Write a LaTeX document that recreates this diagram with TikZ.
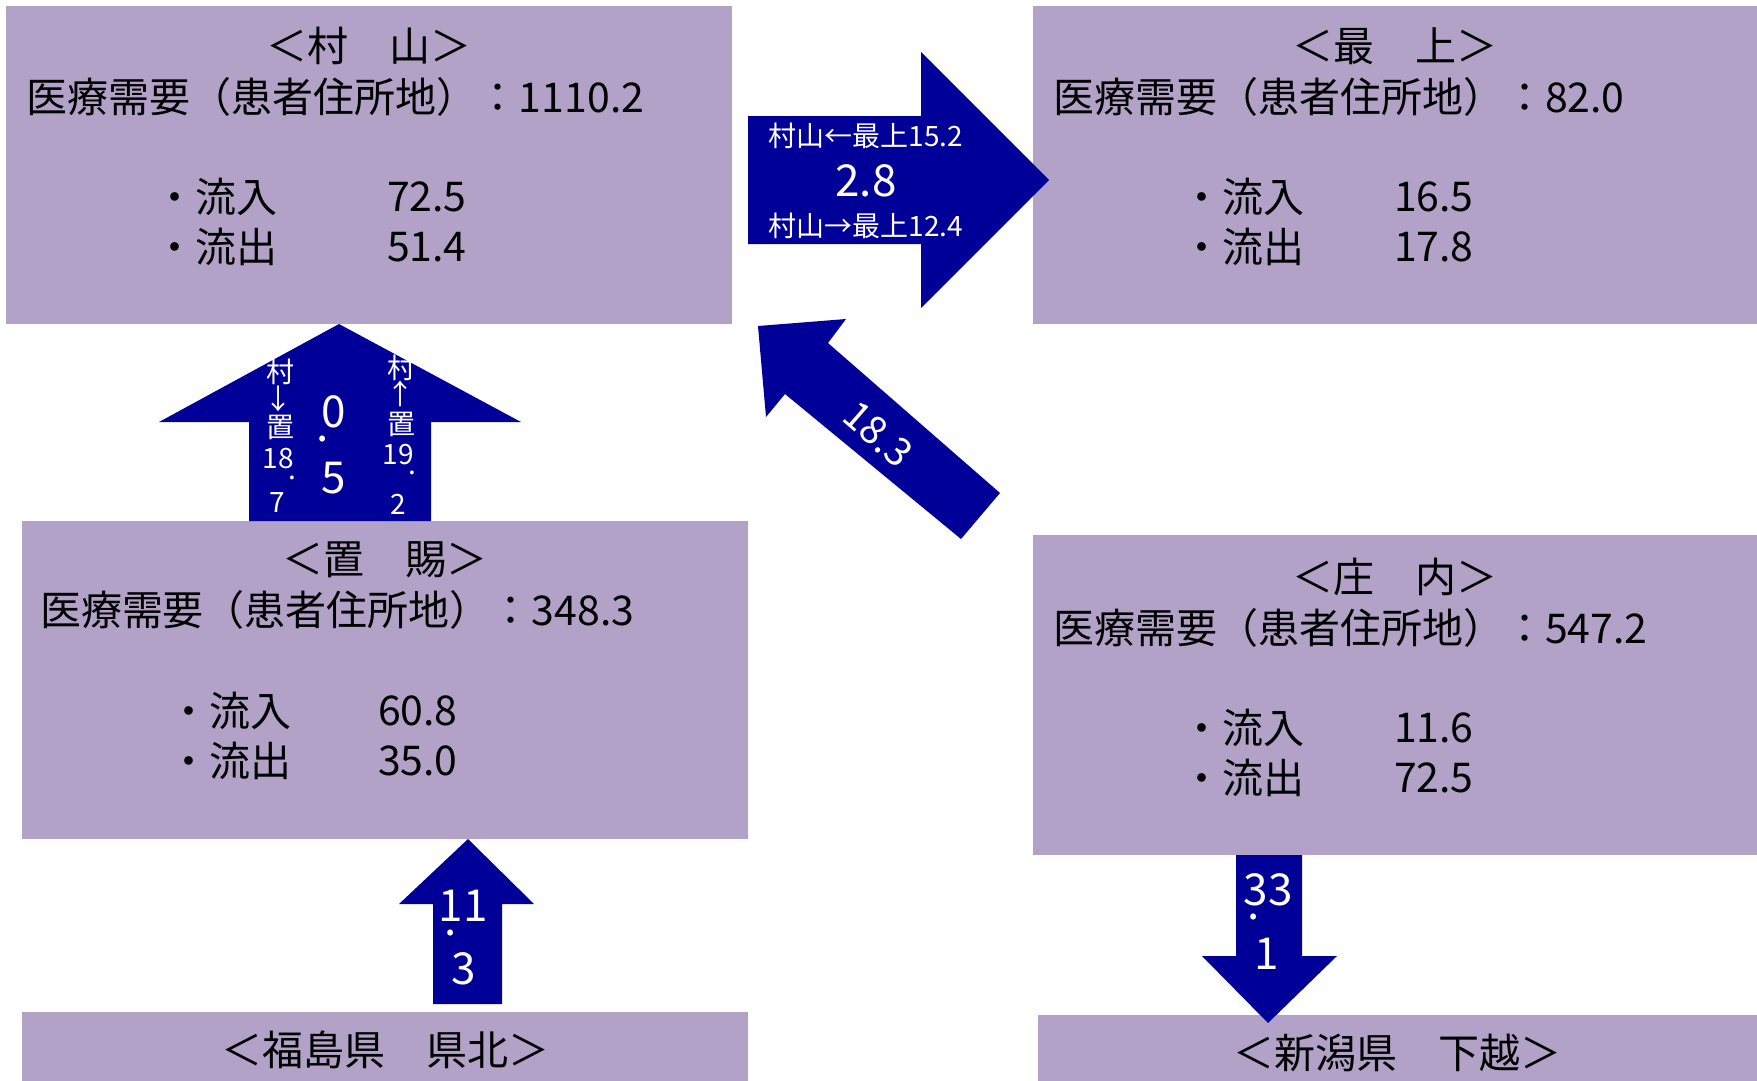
\documentclass[tikz,border=0pt]{standalone}
\usepackage{fontspec}
\setmainfont{Noto Sans CJK JP}
\usetikzlibrary{positioning}
\definecolor{lavender}{RGB}{179,162,199}
\definecolor{flowblue}{RGB}{0,0,153}
\newcommand{\areafont}{\fontsize{41}{45}\selectfont}
\newcommand{\flowfont}{\fontsize{44}{48}\selectfont}
\newcommand{\flowsmallfont}{\fontsize{28}{30}\selectfont}

\begin{document}
\begin{tikzpicture}
    [
        x=1pt, y=-1pt, node distance=514pt and 1026pt, on grid,
        area_box/.style={rectangle, fill=lavender, inner sep=0pt, minimum width=726pt, minimum height=318pt},
        ken_box/.style={rectangle, fill=lavender, inner sep=0pt, minimum width=726pt, minimum height=76pt, font=\areafont},
        title_text/.style={inner sep=0pt, font=\areafont, text=black},
        area_text/.style={inner sep=0pt, font=\areafont, text=black, anchor=west},
        flow_arrow/.style={fill=flowblue},
        flow_big/.style={inner sep=0pt, font=\flowfont, text=white},
        flow_small/.style={inner sep=0pt, font=\flowsmallfont, text=white},
    ]
        \useasboundingbox (0,0) rectangle (1757,1080);
        % areas
        \node[area_box] (murayama) at (369,165) {};
        \node[area_box, minimum width=724pt] (mogami) [right = of murayama] {};
        \node[area_box] (okitama) [below = 514.5pt of murayama, xshift=16pt] {};
        \node[area_box, minimum width=724pt, minimum height=320pt] (shonai) [below = 530pt of mogami] {};
        \node[ken_box] (fukushima) [below = 370.5pt of okitama] {＜福島県　県北＞};
        \node[ken_box, minimum width=719pt] (niigata) [below = 358pt of shonai, xshift=2.5pt] {＜新潟県　下越＞};
        % murayama
        \node[title_text] (murayama_title) at ([shift={(0,40)}]murayama.north) {＜村　山＞};
        \node[area_text] (murayama_demand) at ([shift={(21,91)}]murayama.north west) {医療需要（患者住所地）：1110.2};
        \node[area_text] (murayama_in) at ([shift={(148,191)}]murayama.north west) {・流入};
        \node[area_text] (murayama_in_value) at ([shift={(381,191)}]murayama.north west) {72.5};
        \node[area_text] (murayama_out) at ([shift={(148,241)}]murayama.north west) {・流出};
        \node[area_text] (murayama_out_value) at ([shift={(381,241)}]murayama.north west) {51.4};
        % mogami
        \node[title_text] (mogami_title) at ([shift={(0,40)}]mogami.north) {＜最　上＞};
        \node[area_text] (mogami_demand) at ([shift={(20,91)}]mogami.north west) {医療需要（患者住所地）：82.0};
        \node[area_text] (mogami_in) at ([shift={(148,191)}]mogami.north west) {・流入};
        \node[area_text] (mogami_in_value) at ([shift={(361,191)}]mogami.north west) {16.5};
        \node[area_text] (mogami_out) at ([shift={(148,241)}]mogami.north west) {・流出};
        \node[area_text] (mogami_out_value) at ([shift={(361,241)}]mogami.north west) {17.8};
        % okitama
        \node[title_text] (okitama_title) at ([shift={(0,39)}]okitama.north) {＜置　賜＞};
        \node[area_text] (okitama_demand) at ([shift={(18,90)}]okitama.north west) {医療需要（患者住所地）：348.3};
        \node[area_text] (okitama_in) at ([shift={(146,191)}]okitama.north west) {・流入};
        \node[area_text] (okitama_in_value) at ([shift={(356,191)}]okitama.north west) {60.8};
        \node[area_text] (okitama_out) at ([shift={(146,241)}]okitama.north west) {・流出};
        \node[area_text] (okitama_out_value) at ([shift={(356,241)}]okitama.north west) {35.0};
        % shonai
        \node[title_text] (shonai_title) at ([shift={(0,42)}]shonai.north) {＜庄　内＞};
        \node[area_text] (shonai_demand) at ([shift={(20,93)}]shonai.north west) {医療需要（患者住所地）：547.2};
        \node[area_text] (shonai_in) at ([shift={(148,193)}]shonai.north west) {・流入};
        \node[area_text] (shonai_in_value) at ([shift={(361,193)}]shonai.north west) {11.6};
        \node[area_text] (shonai_out) at ([shift={(148,243)}]shonai.north west) {・流出};
        \node[area_text] (shonai_out_value) at ([shift={(361,243)}]shonai.north west) {72.5};
        % murayama -> mogami
        \fill[flow_arrow] (748,116) -- (921,116) -- (921,52) -- (1049,180) -- (921,308) -- (921,244) -- (748,244) -- cycle;
        \node[flow_small] (mogami_murayama) at (866,136) {村山←最上15.2};
        \node[flow_big] (murayama_mogami_net) at (866,181) {2.8};
        \node[flow_small] (murayama_mogami) at (866,226) {村山→最上12.4};
        % okitama -> murayama
        \fill[flow_arrow] (339,324) -- (521,422) -- (431,422) -- (431,521) -- (249,521) -- (249,422) -- (159,422) -- cycle;
        \node[flow_small] (murayama_okitama_1) at (280,372) {村};
        \node[flow_small] (murayama_okitama_2) at (278,399) {↓};
        \node[flow_small] (murayama_okitama_3) at (280,427) {置};
        \node[flow_small] (murayama_okitama_4) at (278,459) {18};
        \node[flow_small] (murayama_okitama_5) at (292,478) {.};
        \node[flow_small] (murayama_okitama_6) at (277,503) {7};
        \node[flow_big] (okitama_murayama_net_1) at (334,412) {0};
        \node[flow_big] (okitama_murayama_net_2) at (323,439) {.};
        \node[flow_big] (okitama_murayama_net_3) at (334,478) {5};
        \node[flow_small] (okitama_murayama_1) at (401,368) {村};
        \node[flow_small] (okitama_murayama_2) at (400,394) {↑};
        \node[flow_small] (okitama_murayama_3) at (401,424) {置};
        \node[flow_small] (okitama_murayama_4) at (398,455) {19};
        \node[flow_small] (okitama_murayama_5) at (412,473) {.};
        \node[flow_small] (okitama_murayama_6) at (398,504) {2};
        % shonai -> murayama
        \fill[flow_arrow] (758,326) -- (846,319) -- (828,343) -- (1000,493) -- (961,539) -- (785,394) -- (766,417) -- cycle;
        \node[flow_big, font=\fontsize{39}{42}\selectfont, rotate=-41] (shonai_murayama) at (878,434) {18.3};
        % fukushima -> okitama
        \fill[flow_arrow] (468,839) -- (534,904) -- (502,904) -- (502,1004) -- (433,1004) -- (433,904) -- (399,904) -- cycle;
        \node[flow_big] (fukushima_okitama_1) at (463,906) {11};
        \node[flow_big] (fukushima_okitama_2) at (451,933) {.};
        \node[flow_big] (fukushima_okitama_3) at (464,969) {3};
        % shonai -> niigata
        \fill[flow_arrow] (1236,855) -- (1302,855) -- (1302,956) -- (1337,956) -- (1268,1023) -- (1202,956) -- (1236,956) -- cycle;
        \node[flow_big] (shonai_niigata_1) at (1268,890) {33};
        \node[flow_big] (shonai_niigata_2) at (1254,917) {.};
        \node[flow_big] (shonai_niigata_3) at (1267,954) {1};
    \end{tikzpicture}
\end{document}
